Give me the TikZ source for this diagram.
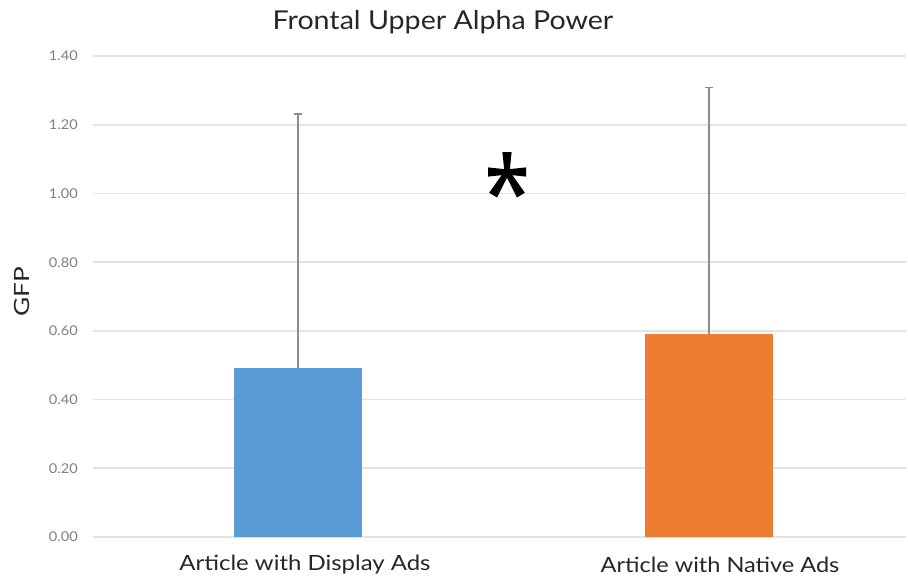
\documentclass[tikz,border=0pt]{standalone}
\usepackage{fontspec}
\setmainfont{Lato}
\usetikzlibrary{calc}
\definecolor{barblue}{HTML}{5B9BD5}
\definecolor{barorange}{HTML}{ED7D31}
\definecolor{gridgray}{HTML}{E3E3E3}
\definecolor{errgray}{HTML}{8C8C8C}
\definecolor{ticktext}{HTML}{7F7F7F}
\definecolor{labeltext}{HTML}{262626}
\newcommand{\widetext}[2]{\scalebox{#1}[1]{#2}}
\begin{document}
\begin{tikzpicture}[x=1pt,y=-1pt,
  gridline/.style={draw=gridgray,line width=1.6pt},
  ticklabel/.style={anchor=east,text=ticktext,font=\fontsize{13.5}{13.5}\selectfont,inner sep=0pt},
  catlabel/.style={text=labeltext,font=\fontsize{21}{21}\selectfont,inner sep=0pt},
  errbar/.style={draw=errgray,line width=1.3pt}]
\useasboundingbox (0,0) rectangle (908,579);
% horizontal grid lines and tick labels, 0.20 apart
\foreach \v/\lab [count=\i from 0] in {0/0.00,1/0.20,2/0.40,3/0.60,4/0.80,5/1.00,6/1.20,7/1.40}{
  \pgfmathsetmacro{\yy}{537-68.71*\v}
  \draw[gridline] (93,\yy) -- (906,\yy);
  \node[ticklabel] (t\i) at (78,\yy) {\widetext{1.08}{\lab}};
}
% bars
\fill[barblue] (234,537) rectangle (362,368);
\fill[barorange] (645,537) rectangle (773,334);
% error bars
\coordinate (b0) at (298,368);
\coordinate (b1) at (298,114);
\coordinate (o0) at (709,334);
\coordinate (o1) at (709,87.5);
\draw[errbar] (b0) -- (b1);
\draw[errbar] ($(b1)+(-4,0)$) -- ($(b1)+(4,0)$);
\draw[errbar] (o0) -- (o1);
\draw[errbar] ($(o1)+(-4,0)$) -- ($(o1)+(4,0)$);
% significance mark: a heavy five-armed asterisk made of wedges
% (y grows downwards here, so angle 60 points down-right)
\coordinate (star) at (507,172);
\foreach \a/\l in {-90/20, 0/19, 180/19, 59/27, 121/27}{
  \fill[black] ($(star)+(\a+90:2.6)$) -- ($(star)+(\a:\l)+(\a+90:4.6)$)
    -- ($(star)+(\a:\l)+(\a-90:4.6)$) -- ($(star)+(\a-90:2.6)$) -- cycle;
}
\fill[black] (star) circle (4);
% title and axis labels
\node[catlabel,font=\fontsize{26}{26}\selectfont] (title) at (443,22) {\widetext{1.1}{Frontal Upper Alpha Power}};
\node[catlabel,rotate=90] (ylab) at (22,292) {\widetext{1.25}{GFP}};
\node[catlabel] (c1) at (305,565) {\widetext{1.14}{Article with Display Ads}};
\node[catlabel] (c2) at (720,565) {\widetext{1.12}{Article with Native Ads}};
\end{tikzpicture}
\end{document}
